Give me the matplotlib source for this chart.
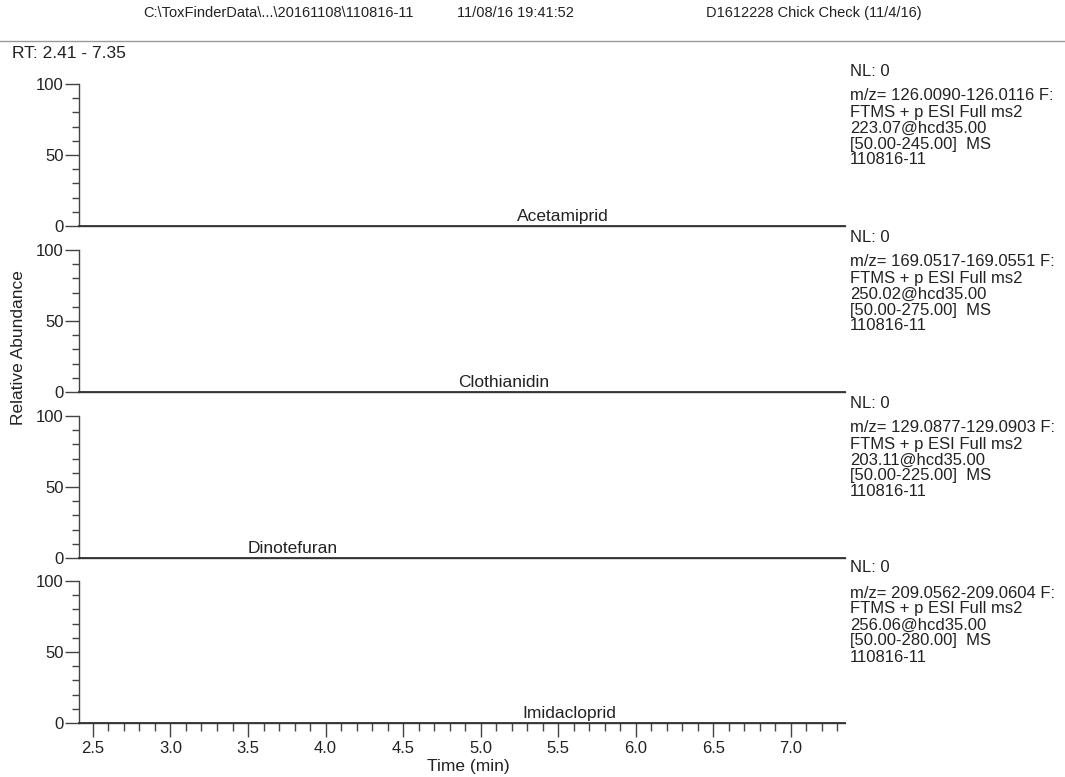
import matplotlib
matplotlib.use("Agg")
import matplotlib.pyplot as plt
from matplotlib.lines import Line2D
from matplotlib.ticker import MultipleLocator

plt.rcParams['font.family'] = ['Liberation Sans', 'DejaVu Sans']

# ---- data ----
rt_range = [2.41, 7.35]
compounds = ["Acetamiprid", "Clothianidin", "Dinotefuran", "Imidacloprid"]
label_rt = [5.53, 5.15, 3.79, 5.57]
trace_rt = [2.41, 7.35]
trace_intensity = [[0, 0], [0, 0], [0, 0], [0, 0]]
nl_values = ["0", "0", "0", "0"]
mz_ranges = ["126.0090-126.0116", "169.0517-169.0551", "129.0877-129.0903", "209.0562-209.0604"]
precursors = ["223.07", "250.02", "203.11", "256.06"]
scan_ranges = ["50.00-245.00", "50.00-275.00", "50.00-225.00", "50.00-280.00"]
sample_id = "110816-11"
header_file = "C:\\ToxFinderData\\...\\20161108\\110816-11"
header_time = "11/08/16 19:41:52"
header_desc = "D1612228 Chick Check (11/4/16)"
y_ticks = [0, 50, 100]
x_ticks = [2.5, 3.0, 3.5, 4.0, 4.5, 5.0, 5.5, 6.0, 6.5, 7.0]

# ---- layout ----
W, H = 1065, 777
fig = plt.figure(figsize=(W / 100, H / 100), dpi=100)
TXT = '#222222'
AXC = '#444444'

def fx(px):
    return px / W

def fy(py):
    return 1 - py / H

left_px, right_px = 79, 845
panel_tops = [84, 250, 416, 581]
panel_h = 142

fig.text(fx(278), fy(13), header_file, ha='center', va='center', fontsize=10.5, color=TXT)
fig.text(fx(515), fy(13), header_time, ha='center', va='center', fontsize=10.5, color=TXT)
fig.text(fx(814), fy(13), header_desc, ha='center', va='center', fontsize=10.5, color=TXT)
fig.add_artist(Line2D([0, 1], [fy(41), fy(41)], color='#9a9a9a', lw=1.0))
fig.text(fx(12), fy(54), "RT: %.2f - %.2f" % (rt_range[0], rt_range[1]),
         ha='left', va='center', fontsize=12.5, color=TXT)

axes = []
for i, top in enumerate(panel_tops):
    ax = fig.add_axes([fx(left_px), fy(top + panel_h), fx(right_px - left_px), panel_h / H])
    axes.append(ax)
    ax.plot(trace_rt, trace_intensity[i], color='#333333', lw=1.3, clip_on=False, zorder=3)
    ax.set_xlim(rt_range)
    ax.set_ylim(0, 100)
    for s in ['top', 'right']:
        ax.spines[s].set_visible(False)
    for s in ['left', 'bottom']:
        ax.spines[s].set_color(AXC)
        ax.spines[s].set_linewidth(1.0)
    ax.set_yticks(y_ticks)
    ax.yaxis.set_minor_locator(MultipleLocator(10))
    ax.tick_params(axis='y', which='major', length=10, width=1, color=AXC, pad=1,
                   labelsize=12, labelcolor=TXT, direction='out')
    ax.tick_params(axis='y', which='minor', length=5, width=1, color=AXC, direction='out')
    if i < 3:
        ax.tick_params(axis='x', which='both', bottom=False, labelbottom=False)
    else:
        ax.set_xticks(x_ticks)
        ax.set_xticklabels(["%.1f" % t for t in x_ticks])
        ax.xaxis.set_minor_locator(MultipleLocator(0.1))
        ax.tick_params(axis='x', which='major', length=10, width=1, color=AXC, pad=3,
                       labelsize=12, labelcolor=TXT, direction='out')
        ax.tick_params(axis='x', which='minor', length=6, width=1, color=AXC, direction='out')
    ax.patch.set_alpha(0)
    ax.text(label_rt[i], 1.5, compounds[i], ha='center', va='bottom', fontsize=12.5, color=TXT)

    # right-hand annotation
    fig.text(fx(850), fy(top - 13), "NL: " + nl_values[i], ha='left', va='center',
             fontsize=12, color=TXT)
    lines = ["m/z= %s F:" % mz_ranges[i],
             "FTMS + p ESI Full ms2",
             "%s@hcd35.00" % precursors[i],
             "[%s]  MS" % scan_ranges[i],
             sample_id]
    for k, ln in enumerate(lines):
        fig.text(fx(850), fy(top + 12 + 16 * k), ln, ha='left', va='center',
                 fontsize=12, color=TXT)

fig.text(fx(19), fy(348), "Relative Abundance", rotation=90, ha='center', va='center',
         fontsize=12.5, color=TXT)
fig.text(fx(468), fy(767), "Time (min)", ha='center', va='center', fontsize=12.5, color=TXT)

fig.savefig("out.png", dpi=100, facecolor='white')
